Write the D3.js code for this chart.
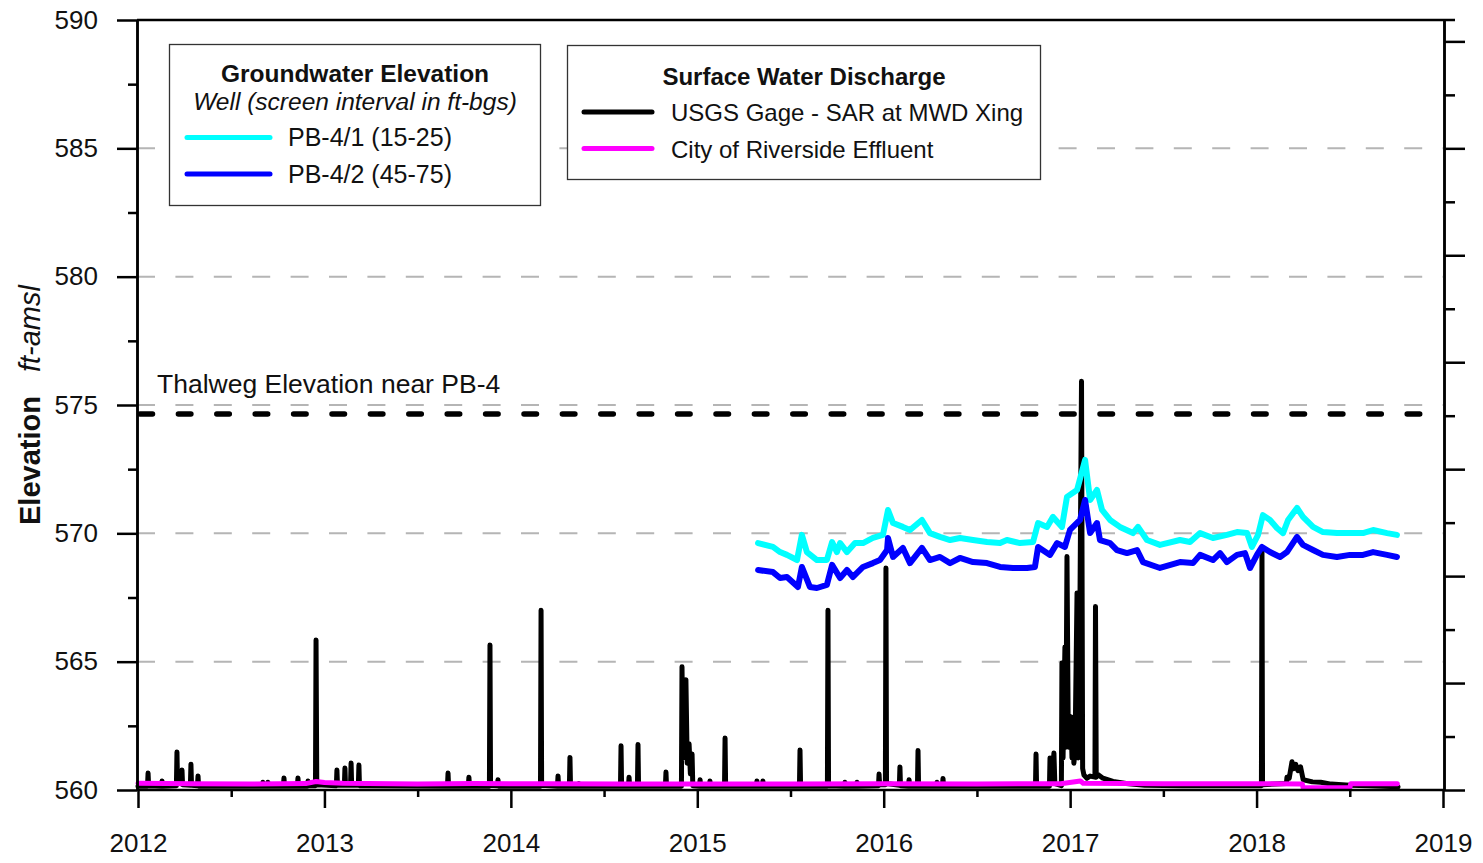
<!DOCTYPE html>
<html><head><meta charset="utf-8">
<script src="https://cdn.jsdelivr.net/npm/d3@7"></script>
<style>
html,body{margin:0;padding:0;background:#fff;}
svg{display:block;font-family:"Liberation Sans",Arial,sans-serif;}
</style>
</head><body>
<svg id="chart" width="1483" height="863"></svg>
<script>
// ---------------- DATA ----------------
const xTickYears = [2012, 2013, 2014, 2015, 2016, 2017, 2018, 2019];
const xMinorYears = [2012.5, 2013.5, 2014.5, 2015.5, 2016.5, 2017.5, 2018.5];
const yTickValues = [560, 565, 570, 575, 580, 585, 590];
const yMinorValues = [562.5, 567.5, 572.5, 577.5, 582.5, 587.5];
const gridValues = [565, 570, 575, 580, 585];
const flowMajorTicks = [0, 1000, 2000, 3000, 4000, 5000, 6000, 7000];
const flowMinorTicks = [500, 1500, 2500, 3500, 4500, 5500, 6500];

const thalwegElevation = 574.65;
const thalwegYears = [2012.0, 2018.92];
const thalwegLabel = "Thalweg Elevation near PB-4";

// PB-4/1 (15-25) groundwater elevation, ft-amsl  [decimal year, elevation]
const pb41 = [
 [2015.326,569.62],[2015.406,569.47],[2015.444,569.27],[2015.481,569.16],[2015.535,568.96],
 [2015.561,569.94],[2015.588,569.27],[2015.642,568.96],[2015.695,568.96],[2015.723,569.66],
 [2015.749,569.27],[2015.766,569.62],[2015.803,569.27],[2015.846,569.62],[2015.889,569.62],
 [2015.942,569.82],[2015.996,569.94],[2016.023,570.91],[2016.050,570.40],[2016.103,570.25],
 [2016.141,570.13],[2016.205,570.52],[2016.248,570.01],[2016.302,569.86],[2016.356,569.74],
 [2016.409,569.82],[2016.479,569.74],[2016.554,569.66],[2016.624,569.62],[2016.661,569.74],
 [2016.731,569.62],[2016.801,569.66],[2016.828,570.40],[2016.876,570.25],[2016.908,570.64],
 [2016.956,570.25],[2016.983,571.42],[2017.037,571.69],[2017.080,572.86],[2017.107,571.30],
 [2017.144,571.69],[2017.171,570.91],[2017.214,570.52],[2017.267,570.25],[2017.337,570.01],
 [2017.364,570.25],[2017.412,569.74],[2017.482,569.55],[2017.589,569.74],[2017.643,569.66],
 [2017.697,570.01],[2017.766,569.82],[2017.841,569.94],[2017.895,570.05],[2017.949,570.01],
 [2017.975,569.47],[2018.008,569.94],[2018.034,570.71],[2018.072,570.52],[2018.109,570.21],
 [2018.142,570.01],[2018.169,570.52],[2018.217,570.99],[2018.249,570.64],[2018.303,570.25],
 [2018.356,570.05],[2018.431,570.01],[2018.501,570.01],[2018.571,570.01],[2018.625,570.13],
 [2018.700,570.01],[2018.753,569.94]
];

// PB-4/2 (45-75) groundwater elevation, ft-amsl
const pb42 = [
 [2015.326,568.57],[2015.406,568.49],[2015.444,568.26],[2015.481,568.30],[2015.540,567.91],
 [2015.561,568.69],[2015.604,567.91],[2015.642,567.87],[2015.695,567.99],[2015.723,568.77],
 [2015.766,568.26],[2015.803,568.57],[2015.835,568.30],[2015.889,568.69],[2015.942,568.84],
 [2015.980,568.96],[2016.018,569.35],[2016.023,569.82],[2016.050,569.08],[2016.103,569.43],
 [2016.141,568.84],[2016.205,569.43],[2016.248,568.96],[2016.302,569.08],[2016.356,568.84],
 [2016.409,569.04],[2016.479,568.88],[2016.554,568.84],[2016.624,568.69],[2016.693,568.65],
 [2016.769,568.65],[2016.811,568.69],[2016.828,569.47],[2016.892,569.16],[2016.930,569.62],
 [2016.972,569.47],[2016.999,570.13],[2017.053,570.52],[2017.080,571.30],[2017.107,570.01],
 [2017.144,570.40],[2017.160,569.74],[2017.214,569.62],[2017.251,569.35],[2017.305,569.23],
 [2017.359,569.35],[2017.391,568.88],[2017.482,568.65],[2017.589,568.88],[2017.659,568.84],
 [2017.697,569.16],[2017.766,568.96],[2017.804,569.23],[2017.841,568.88],[2017.895,569.16],
 [2017.938,569.23],[2017.965,568.65],[2018.002,569.16],[2018.029,569.47],[2018.072,569.27],
 [2018.126,569.08],[2018.163,569.27],[2018.217,569.86],[2018.249,569.55],[2018.303,569.35],
 [2018.356,569.16],[2018.431,569.08],[2018.501,569.16],[2018.571,569.16],[2018.625,569.27],
 [2018.700,569.16],[2018.753,569.08]
];

// USGS Gage - SAR at MWD Xing discharge (right axis units)  [decimal year, discharge]
const usgs = [
 [2012.000,36],
 [2012.051,36],[2012.054,158],[2012.057,40],
 [2012.126,36],[2012.129,84],[2012.132,36],
 [2012.206,40],[2012.209,355],[2012.212,60],
 [2012.233,60],[2012.236,187],[2012.239,50],
 [2012.281,45],[2012.284,240],[2012.287,45],
 [2012.319,40],[2012.322,132],[2012.325,36],
 [2012.667,36],[2012.670,72],[2012.673,36],
 [2012.694,36],[2012.697,72],[2012.700,36],
 [2012.780,36],[2012.783,113],[2012.786,36],
 [2012.855,36],[2012.858,113],[2012.861,36],
 [2012.909,36],[2012.912,84],[2012.915,40],
 [2012.952,40],[2012.955,1402],[2012.959,50],
 [2013.064,40],[2013.067,187],[2013.070,45],
 [2013.107,45],[2013.110,206],[2013.113,45],
 [2013.140,45],[2013.143,252],[2013.146,45],
 [2013.182,45],[2013.185,233],[2013.188,40],
 [2013.660,36],[2013.663,158],[2013.666,36],
 [2013.772,36],[2013.775,120],[2013.778,36],
 [2013.885,36],[2013.888,1356],[2013.891,45],
 [2013.928,40],[2013.931,96],[2013.934,36],
 [2014.159,36],[2014.162,1680],[2014.165,45],
 [2014.250,36],[2014.253,132],[2014.256,36],
 [2014.314,36],[2014.317,305],[2014.320,36],
 [2014.363,36],[2014.366,60],[2014.369,36],
 [2014.588,36],[2014.591,413],[2014.594,36],
 [2014.631,36],[2014.634,120],[2014.637,36],
 [2014.679,36],[2014.682,425],[2014.685,36],
 [2014.829,36],[2014.832,168],[2014.835,36],
 [2014.915,36],[2014.918,1152],[2014.924,300],[2014.939,1032],[2014.946,250],
 [2014.956,432],[2014.963,150],[2014.972,336],[2014.976,40],
 [2015.012,36],[2015.015,96],[2015.018,36],
 [2015.065,36],[2015.068,84],[2015.071,36],
 [2015.146,36],[2015.149,487],[2015.152,36],
 [2015.317,36],[2015.320,84],[2015.323,36],
 [2015.349,36],[2015.352,84],[2015.355,36],
 [2015.548,36],[2015.551,374],[2015.554,36],
 [2015.698,36],[2015.701,1680],[2015.704,40],
 [2015.789,36],[2015.792,72],[2015.795,36],
 [2015.854,36],[2015.857,72],[2015.860,36],
 [2015.972,40],[2015.975,149],[2015.978,50],
 [2016.009,50],[2016.012,2076],[2016.015,60],
 [2016.084,45],[2016.087,216],[2016.090,40],
 [2016.133,36],[2016.136,96],[2016.139,36],
 [2016.181,36],[2016.184,370],[2016.187,36],
 [2016.283,36],[2016.286,72],[2016.289,36],
 [2016.315,36],[2016.318,108],[2016.321,36],
 [2016.814,36],[2016.817,336],[2016.820,36],
 [2016.889,36],[2016.892,300],[2016.902,60],[2016.913,346],[2016.918,60],
 [2016.953,40],[2016.956,1188],[2016.962,300],[2016.972,1337],[2016.977,400],
 [2016.983,2184],[2016.990,500],[2016.994,400],[2017.004,684],[2017.010,300],
 [2017.015,552],[2017.020,250],[2017.026,350],[2017.037,1843],[2017.043,300],
 [2017.047,350],[2017.061,3823],[2017.067,200],[2017.074,140],[2017.090,110],
 [2017.107,130],[2017.133,120],[2017.136,1716],[2017.140,120],[2017.149,144],
 [2017.176,110],[2017.230,80],[2017.300,60],[2017.400,45],[2017.600,40],[2017.800,40],
 [2018.026,40],[2018.029,2232],[2018.032,50],
 [2018.160,60],[2018.163,120],[2018.175,110],[2018.190,264],[2018.200,200],
 [2018.210,240],[2018.222,180],[2018.236,216],[2018.250,96],[2018.300,76],
 [2018.344,72],[2018.400,55],[2018.500,45],[2018.600,40],[2018.759,30]
];

// City of Riverside Effluent discharge (right axis units)
const effluent = [
 [2012.000,62],[2012.300,58],[2012.600,55],[2012.900,60],[2012.955,80],[2013.000,70],
 [2013.100,62],[2013.500,55],[2013.800,60],[2014.200,58],[2014.600,56],[2015.000,56],
 [2015.500,56],[2016.000,58],[2016.500,57],[2016.950,58],[2017.055,85],[2017.070,62],
 [2017.500,58],[2018.000,58],[2018.245,57],[2018.250,20],[2018.500,20],[2018.505,58],
 [2018.755,58]
];

const legendGW = {title: "Groundwater Elevation", subtitle: "Well (screen interval in ft-bgs)",
  items: [{label: "PB-4/1 (15-25)", color: "#00ffff"}, {label: "PB-4/2 (45-75)", color: "#0000ff"}]};
const legendSW = {title: "Surface Water Discharge",
  items: [{label: "USGS Gage - SAR at MWD Xing", color: "#000000"}, {label: "City of Riverside Effluent", color: "#ff00ff"}]};

// ---------------- CHART ----------------
const svg = d3.select("#chart");
const x = d3.scaleLinear().domain([2012, 2019]).range([138, 1443]);
const y = d3.scaleLinear().domain([560, 590]).range([790, 20]);
const yQ = d3.scaleLinear().domain([0, 7200]).range([790, 20]);

// grid
svg.append("g").selectAll("line").data(gridValues).join("line")
  .attr("x1", 137).attr("x2", x(2019)).attr("y1", d => y(d)).attr("y2", d => y(d))
  .attr("stroke", "#b5b5b5").attr("stroke-width", 2).attr("stroke-dasharray", "18 20.4");

// thalweg
svg.append("line")
  .attr("x1", x(thalwegYears[0]) + 2).attr("x2", x(thalwegYears[1]))
  .attr("y1", y(thalwegElevation)).attr("y2", y(thalwegElevation))
  .attr("stroke", "#000").attr("stroke-width", 5.5).attr("stroke-linecap", "round")
  .attr("stroke-dasharray", "12.5 25.9");
svg.append("text").attr("x", 157).attr("y", 393).attr("font-size", 26.5).attr("fill", "#111")
  .text(thalwegLabel);

// series
const lineQ = d3.line().x(d => x(d[0])).y(d => yQ(d[1]));
const lineE = d3.line().x(d => x(d[0])).y(d => y(d[1]));
svg.append("path").datum(usgs).attr("d", lineQ).attr("fill", "none").attr("stroke", "#000")
  .attr("stroke-width", 5).attr("stroke-linejoin", "round").attr("stroke-linecap", "round");
svg.append("path").datum(effluent).attr("d", lineQ).attr("fill", "none").attr("stroke", "#ff00ff")
  .attr("stroke-width", 5).attr("stroke-linejoin", "round").attr("stroke-linecap", "round");
svg.append("path").datum(pb41).attr("d", lineE).attr("fill", "none").attr("stroke", "#00ffff")
  .attr("stroke-width", 6).attr("stroke-linejoin", "round").attr("stroke-linecap", "round");
svg.append("path").datum(pb42).attr("d", lineE).attr("fill", "none").attr("stroke", "#0000ff")
  .attr("stroke-width", 6).attr("stroke-linejoin", "round").attr("stroke-linecap", "round");

// axes
function styleAxis(g) {
  g.selectAll("path.domain").attr("stroke", "#000").attr("stroke-width", 2.5);
  g.selectAll(".tick line").attr("stroke", "#000").attr("stroke-width", 2.5);
  g.selectAll("text").attr("fill", "#111").attr("font-family", "'Liberation Sans',Arial,sans-serif");
}
// left
const gl = svg.append("g").attr("transform", "translate(137,0)")
  .call(d3.axisLeft(y).tickValues(yTickValues).tickSize(20).tickSizeOuter(0).tickPadding(19).tickFormat(d3.format("d")));
gl.selectAll("text").attr("font-size", 26);
styleAxis(gl);
const glm = svg.append("g").attr("transform", "translate(137,0)")
  .call(d3.axisLeft(y).tickValues(yMinorValues).tickSize(9).tickSizeOuter(0).tickFormat(""));
styleAxis(glm);
// right
const gr = svg.append("g").attr("transform", "translate(1444,0)")
  .call(d3.axisRight(yQ).tickValues(flowMajorTicks).tickSize(21).tickSizeOuter(0).tickFormat(""));
styleAxis(gr);
const grm = svg.append("g").attr("transform", "translate(1444,0)")
  .call(d3.axisRight(yQ).tickValues(flowMinorTicks).tickSize(11).tickSizeOuter(0).tickFormat(""));
styleAxis(grm);
// bottom
const gb = svg.append("g").attr("transform", "translate(0,790)")
  .call(d3.axisBottom(x).tickValues(xTickYears).tickSize(18).tickSizeOuter(0).tickPadding(26).tickFormat(d3.format("d")));
gb.select("path.domain").attr("d", "M137,0H1444");
gb.selectAll("text").attr("font-size", 26);
styleAxis(gb);
const gbm = svg.append("g").attr("transform", "translate(0,790)")
  .call(d3.axisBottom(x).tickValues(xMinorYears).tickSize(7).tickSizeOuter(0).tickFormat(""));
gbm.select("path.domain").remove();
styleAxis(gbm);
// top border
svg.append("line").attr("x1", 137).attr("x2", 1455).attr("y1", y(590)).attr("y2", y(590))
  .attr("stroke", "#000").attr("stroke-width", 2.5);

// y title
const yt = svg.append("text").attr("transform", "translate(40,525) rotate(-90)")
  .attr("font-size", 29).attr("fill", "#111");
yt.append("tspan").attr("font-weight", "bold").text("Elevation");
yt.append("tspan").attr("dx", 24).attr("font-style", "italic").text("ft-amsl");

// legend 1
const l1 = svg.append("g");
l1.append("rect").attr("x", 169.5).attr("y", 44.5).attr("width", 371).attr("height", 161)
  .attr("fill", "#fff").attr("stroke", "#333").attr("stroke-width", 1.3);
l1.append("text").attr("x", 355).attr("y", 82).attr("text-anchor", "middle").attr("font-size", 24.5)
  .attr("font-weight", "bold").attr("fill", "#111").text(legendGW.title);
l1.append("text").attr("x", 355).attr("y", 109.5).attr("text-anchor", "middle").attr("font-size", 24.5)
  .attr("font-style", "italic").attr("fill", "#111").text(legendGW.subtitle);
legendGW.items.forEach((it, i) => {
  const yy = 137.5 + i * 36.5;
  l1.append("line").attr("x1", 187).attr("x2", 270).attr("y1", yy).attr("y2", yy)
    .attr("stroke", it.color).attr("stroke-width", 5).attr("stroke-linecap", "round");
  l1.append("text").attr("x", 288).attr("y", yy + 8.8).attr("font-size", 25).attr("fill", "#111").text(it.label);
});

// legend 2
const l2 = svg.append("g");
l2.append("rect").attr("x", 567.5).attr("y", 45.5).attr("width", 473).attr("height", 134)
  .attr("fill", "#fff").attr("stroke", "#333").attr("stroke-width", 1.3);
l2.append("text").attr("x", 804).attr("y", 85).attr("text-anchor", "middle").attr("font-size", 24)
  .attr("font-weight", "bold").attr("fill", "#111").text(legendSW.title);
legendSW.items.forEach((it, i) => {
  const yy = 112 + i * 36.5;
  l2.append("line").attr("x1", 584).attr("x2", 652).attr("y1", yy).attr("y2", yy)
    .attr("stroke", it.color).attr("stroke-width", 5).attr("stroke-linecap", "round");
  l2.append("text").attr("x", 671).attr("y", yy + 9).attr("font-size", 24).attr("fill", "#111").text(it.label);
});
</script>
</body></html>
